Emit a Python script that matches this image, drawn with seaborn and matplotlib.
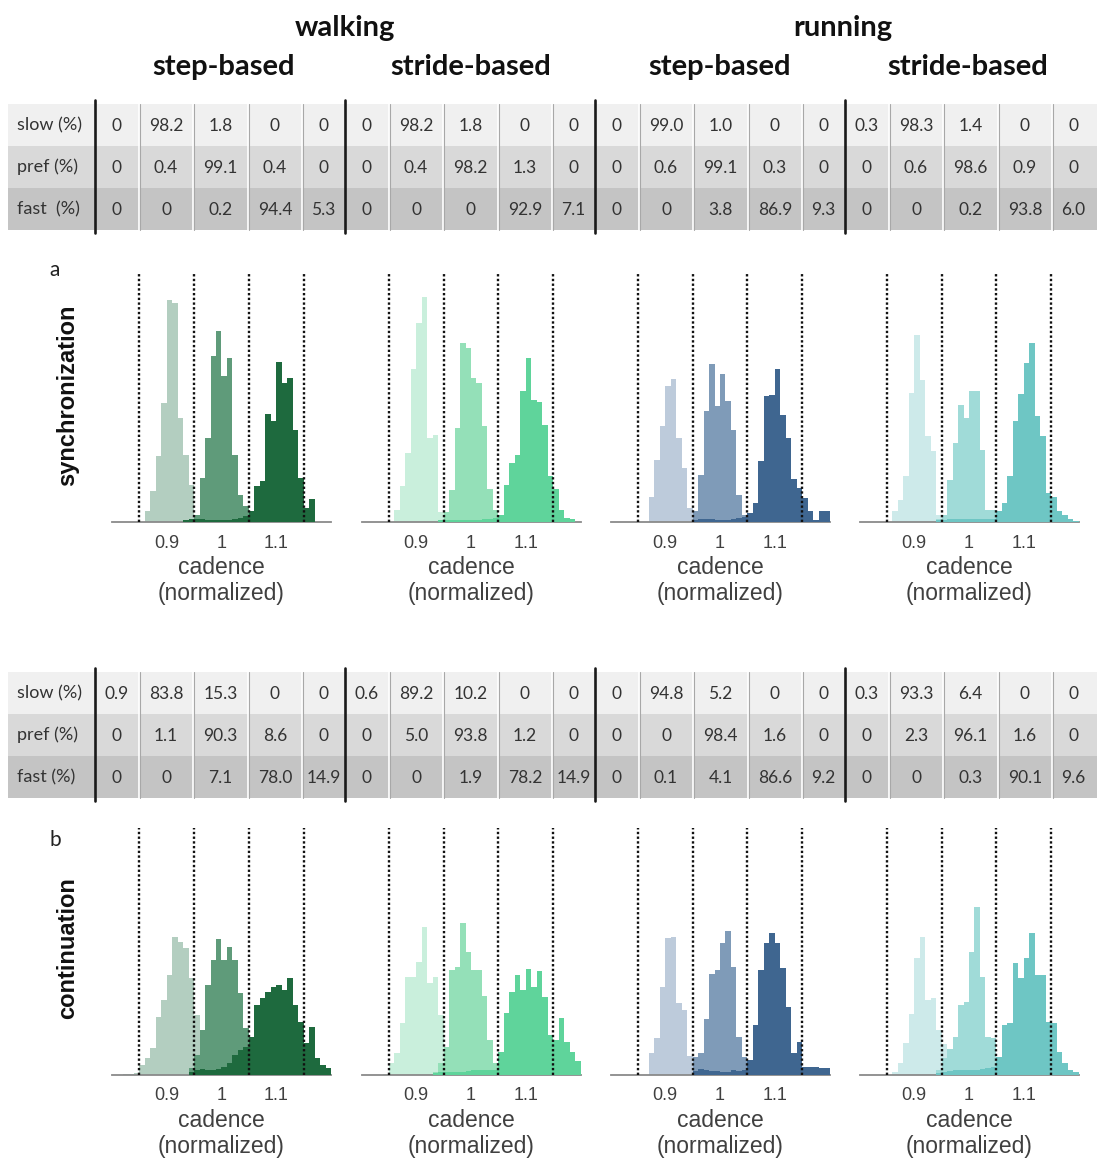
import numpy as np
import pandas as pd
import matplotlib
matplotlib.use("Agg")
import matplotlib.pyplot as plt
import seaborn as sns
from matplotlib.patches import Rectangle

sns.set_theme(style="white")
plt.rcParams['font.family'] = ['Lato', 'DejaVu Sans']

# ---------------- data ----------------
gait_titles = ["walking", "running"]
method_titles = ["step-based", "stride-based", "step-based", "stride-based"]
row_labels_sync = ["slow (%)", "pref (%)", "fast  (%)"]
row_labels_cont = ["slow (%)", "pref (%)", "fast (%)"]
cond_labels = ["synchronization", "continuation"]
panel_letters = ["a", "b"]

# classification tables (per panel: 5 zones)
sync_slow = [[0, 98.2, 1.8, 0, 0], [0, 98.2, 1.8, 0, 0], [0, 99.0, 1.0, 0, 0], [0.3, 98.3, 1.4, 0, 0]]
sync_pref = [[0, 0.4, 99.1, 0.4, 0], [0, 0.4, 98.2, 1.3, 0], [0, 0.6, 99.1, 0.3, 0], [0, 0.6, 98.6, 0.9, 0]]
sync_fast = [[0, 0, 0.2, 94.4, 5.3], [0, 0, 0, 92.9, 7.1], [0, 0, 3.8, 86.9, 9.3], [0, 0, 0.2, 93.8, 6.0]]
cont_slow = [[0.9, 83.8, 15.3, 0, 0], [0.6, 89.2, 10.2, 0, 0], [0, 94.8, 5.2, 0, 0], [0.3, 93.3, 6.4, 0, 0]]
cont_pref = [[0, 1.1, 90.3, 8.6, 0], [0, 5.0, 93.8, 1.2, 0], [0, 0, 98.4, 1.6, 0], [0, 2.3, 96.1, 1.6, 0]]
cont_fast = [[0, 0, 7.1, 78.0, 14.9], [0, 0, 1.9, 78.2, 14.9], [0, 0.1, 4.1, 86.6, 9.2], [0, 0, 0.3, 90.1, 9.6]]

# histogram data: first bin edge of slow/pref/fast, bin width, bin heights
bin_width = 0.01
zone_bounds = [0.85, 0.95, 1.05, 1.15]
cadence_ticks = [0.9, 1.0, 1.1]
cadence_ticklabels = ["0.9", "1", "1.1"]

sync_walk_step_starts = [0.86, 0.94, 0.93]
sync_walk_step_slow = [11, 31, 66, 119, 222, 219, 104, 67, 37, 4]
sync_walk_step_pref = [3, 7, 44, 84, 166, 191, 146, 164, 67, 27, 16, 3]
sync_walk_step_fast = [2, 3, 3, 3, 2, 2, 2, 2, 2, 3, 4, 6, 11, 36, 41, 108, 101, 160, 139, 144, 92, 44, 14, 23]

sync_walk_stride_starts = [0.86, 0.95, 0.94]
sync_walk_stride_slow = [12, 36, 69, 153, 199, 225, 84, 87, 10, 3]
sync_walk_stride_pref = [10, 32, 94, 179, 174, 144, 139, 96, 33, 12]
sync_walk_stride_fast = [2, 2, 2, 2, 2, 2, 2, 2, 3, 3, 4, 7, 37, 59, 67, 131, 164, 122, 120, 97, 46, 33, 12, 4, 3]

sync_run_step_starts = [0.87, 0.95, 0.95]
sync_run_step_slow = [25, 62, 96, 136, 143, 84, 54, 14]
sync_run_step_pref = [11, 47, 111, 158, 116, 148, 121, 92, 27, 7]
sync_run_step_fast = [2, 3, 3, 3, 2, 2, 2, 3, 4, 5, 9, 19, 61, 126, 127, 153, 107, 84, 43, 34, 24, 11, 2, 11, 11]

sync_run_stride_starts = [0.86, 0.94, 0.94]
sync_run_stride_slow = [11, 22, 46, 129, 187, 142, 86, 71, 7]
sync_run_stride_pref = [3, 7, 42, 79, 117, 104, 131, 131, 72, 12, 12]
sync_run_stride_fast = [2, 2, 3, 3, 3, 3, 3, 3, 3, 3, 3, 11, 19, 46, 101, 128, 159, 179, 106, 86, 29, 25, 11, 7, 3, 1]

cont_walk_step_starts = [0.82, 0.94, 0.94]
cont_walk_step_slow = [1, 1, 2, 10, 17, 27, 58, 75, 100, 138, 133, 127, 97, 60, 20, 8, 3]
cont_walk_step_pref = [7, 20, 45, 90, 115, 136, 115, 128, 115, 82, 47, 20, 10, 5, 2]
cont_walk_step_fast = [3, 5, 6, 5, 5, 6, 8, 12, 20, 25, 28, 38, 70, 77, 83, 88, 90, 85, 97, 70, 53, 32, 48, 17, 10, 7]

cont_walk_stride_starts = [0.84, 0.93, 0.93]
cont_walk_stride_slow = [1, 12, 22, 52, 98, 98, 113, 148, 92, 98, 60, 28, 8, 3]
cont_walk_stride_pref = [3, 12, 28, 105, 108, 152, 123, 105, 105, 79, 35, 12, 5]
cont_walk_stride_fast = [2, 3, 3, 3, 3, 3, 4, 5, 5, 5, 5, 5, 23, 62, 83, 100, 85, 106, 88, 104, 78, 40, 35, 57, 33, 23, 14]

cont_run_step_starts = [0.87, 0.95, 0.95]
cont_run_step_slow = [22, 37, 88, 137, 138, 72, 65, 19]
cont_run_step_pref = [18, 22, 56, 101, 105, 132, 144, 108, 38, 18]
cont_run_step_fast = [4, 6, 5, 4, 4, 3, 3, 5, 4, 5, 15, 50, 105, 132, 142, 132, 107, 68, 22, 33, 8, 8, 8, 7, 7]

cont_run_stride_starts = [0.86, 0.94, 0.94]
cont_run_stride_slow = [3, 12, 32, 61, 117, 138, 75, 77, 45, 31, 5]
cont_run_stride_pref = [5, 17, 26, 38, 70, 73, 123, 168, 98, 38, 37]
cont_run_stride_fast = [2, 3, 4, 5, 5, 5, 5, 5, 6, 7, 8, 18, 50, 52, 112, 97, 117, 142, 100, 100, 53, 52, 23, 12, 5, 3]

sync_panels = [
    (sync_walk_step_starts, [sync_walk_step_slow, sync_walk_step_pref, sync_walk_step_fast]),
    (sync_walk_stride_starts, [sync_walk_stride_slow, sync_walk_stride_pref, sync_walk_stride_fast]),
    (sync_run_step_starts, [sync_run_step_slow, sync_run_step_pref, sync_run_step_fast]),
    (sync_run_stride_starts, [sync_run_stride_slow, sync_run_stride_pref, sync_run_stride_fast]),
]
cont_panels = [
    (cont_walk_step_starts, [cont_walk_step_slow, cont_walk_step_pref, cont_walk_step_fast]),
    (cont_walk_stride_starts, [cont_walk_stride_slow, cont_walk_stride_pref, cont_walk_stride_fast]),
    (cont_run_step_starts, [cont_run_step_slow, cont_run_step_pref, cont_run_step_fast]),
    (cont_run_stride_starts, [cont_run_stride_slow, cont_run_stride_pref, cont_run_stride_fast]),
]

panel_colors = [
    ["#b3cec0", "#5f9b7a", "#1e6a3e"],
    ["#c9efdc", "#94e0b8", "#5fd49b"],
    ["#bdcbdb", "#7f9bb8", "#3f6690"],
    ["#cdeaea", "#a0dbd8", "#6ec6c4"],
]

# ---------------- layout (pixels) ----------------
W, H = 1097, 1158
fig = plt.figure(figsize=(W / 100, H / 100), dpi=100)
fig.patch.set_facecolor("white")

bg = fig.add_axes([0, 0, 1, 1])
bg.set_xlim(0, W)
bg.set_ylim(H, 0)
bg.axis("off")

table_font = ['Lato', 'DejaVu Sans']
arial = ['Liberation Sans', 'DejaVu Sans']
group_x = [95, 345, 595, 845]
cell_w = [44, 54, 55, 54, 43]
row_h_tab = 42
row_bg = ["#f0f0f0", "#d9d9d9", "#c4c4c4"]


def fmt(v):
    return "0" if v == 0 else f"{v:.1f}"


def draw_table(top, labels, rows):
    for r in range(3):
        y0 = top + r * row_h_tab
        bg.add_patch(Rectangle((8, y0), W - 8, row_h_tab, facecolor=row_bg[r], edgecolor="none", zorder=1))
        bg.text(17, y0 + row_h_tab / 2, labels[r], ha="left", va="center", fontsize=13,
                color="#333333", family=table_font, zorder=3)
        for g in range(4):
            x = group_x[g]
            for c in range(5):
                bg.text(x + cell_w[c] / 2, y0 + row_h_tab / 2 + 1, fmt(rows[r][g][c]), ha="center", va="center",
                        fontsize=12.5, color="#333333", family=table_font, zorder=3)
                x += cell_w[c]
    for g in range(4):
        x = group_x[g]
        for c in range(5):
            x += cell_w[c]
            if c < 4:
                bg.plot([x, x], [top, top + 3 * row_h_tab], color="#ffffff", lw=1.2, zorder=2)
                bg.plot([x + 1, x + 1], [top, top + 3 * row_h_tab], color="#a8a8a8", lw=0.8, zorder=2)
        bg.plot([group_x[g], group_x[g]], [top - 4, top + 3 * row_h_tab + 3], color="#1a1a1a", lw=1.9, zorder=4)


draw_table(104, row_labels_sync, [sync_slow, sync_pref, sync_fast])
draw_table(672, row_labels_cont, [cont_slow, cont_pref, cont_fast])

# titles
for i, t in enumerate(gait_titles):
    bg.text([345, 843][i], 28, t, ha="center", va="center", fontsize=21, fontweight="bold",
            color="#111111", family=table_font)
for i, t in enumerate(method_titles):
    bg.text([224, 471, 720, 968][i], 67, t, ha="center", va="center", fontsize=21, fontweight="bold",
            color="#111111", family=table_font)

bg.text(55, 270, panel_letters[0], ha="center", va="center", fontsize=15, color="#222222", family=table_font)
bg.text(55, 840, panel_letters[1], ha="center", va="center", fontsize=15, color="#222222", family=table_font)
bg.text(68, 395, cond_labels[0], ha="center", va="center", rotation=90, fontsize=17, fontweight="bold",
        color="#111111", family=arial)
bg.text(68, 948, cond_labels[1], ha="center", va="center", rotation=90, fontsize=17, fontweight="bold",
        color="#111111", family=arial)

panel_left = [112, 361.5, 610.5, 859.5]
panel_w = 219
rows_geom = [(273, 522), (828, 1075)]

for row, panels in enumerate([sync_panels, cont_panels]):
    top, base = rows_geom[row]
    h = base - top
    for j, (starts, series) in enumerate(panels):
        ax = fig.add_axes([panel_left[j] / W, 1 - base / H, panel_w / W, h / H])
        ax.patch.set_alpha(0)
        for k, heights in enumerate(series):
            n = len(heights)
            lo = round(starts[k], 4)
            hi = round(starts[k] + n * bin_width, 4)
            centers = lo + bin_width * (np.arange(n) + 0.5)
            df = pd.DataFrame({"cadence": centers, "count": np.asarray(heights, dtype=float)})
            sns.histplot(data=df, x="cadence", weights="count", binwidth=bin_width, binrange=(lo, hi),
                         element="step", fill=True, color=panel_colors[j][k], alpha=1.0,
                         linewidth=0, ax=ax, zorder=2 + k)
        for b in zone_bounds:
            ax.axvline(b, color="#111111", ls=(0, (1, 1)), lw=1.7, zorder=6)
        ax.set_xlim(0.8, 1.2)
        ax.set_ylim(0, h)
        ax.set_yticks([])
        ax.set_ylabel("")
        ax.set_xticks(cadence_ticks)
        ax.set_xticklabels(cadence_ticklabels)
        for s in ["left", "top", "right"]:
            ax.spines[s].set_visible(False)
        ax.spines["bottom"].set_color("#8a8a8a")
        ax.spines["bottom"].set_linewidth(1.3)
        ax.tick_params(axis="x", length=0, pad=9, labelsize=13, labelcolor="#404040")
        for lab in ax.get_xticklabels():
            lab.set_fontfamily(arial)
        ax.set_xlabel("cadence\n(normalized)", fontsize=16.5, color="#404040", labelpad=3,
                      family=arial, linespacing=1.2)

fig.savefig("out.png", dpi=100, facecolor="white")
